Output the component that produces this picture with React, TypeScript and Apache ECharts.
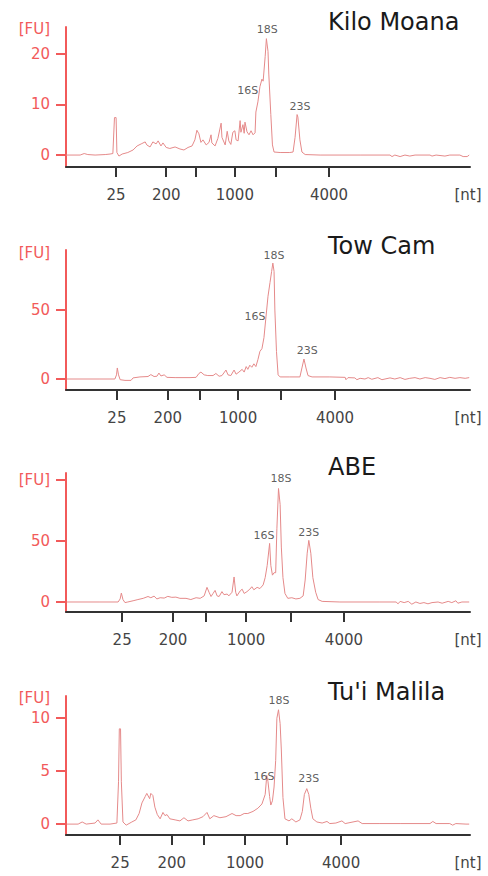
import React, { useEffect, useRef } from "react";
import * as echarts from "echarts";

// ---------- data ----------
const panelTitles = ["Kilo Moana", "Tow Cam", "ABE", "Tu'i Malila"];
const xTickLabels = ["25", "200", "", "1000", "", "4000"];
const ntLabel = "[nt]";
const ntPos = 99.5;
const fuLabel = "[FU]";
const peakNames = ["18S", "16S", "23S"];

// ladder tick positions (relative migration units 0..100)
const xTicks1 = [12.4, 24.8, 32.2, 41.8, 52.0, 65.1];
const xTicks2 = [12.6, 25.2, 33.2, 42.6, 53.2, 66.6];
const xTicks3 = [13.9, 26.5, 34.7, 44.6, 55.7, 68.8];
const xTicks4 = [13.4, 26.2, 34.2, 44.3, 54.7, 68.1];

// fluorescence axes
const yMin = [-2.36, -7.97, -8.2, -1.03];
const yMax = [25.3, 93.5, 105.7, 12.1];
const yTicks1 = [0, 10, 20];
const yTicks2 = [0, 50];
const yTicks3 = [0, 50, 100];
const yTicks4 = [0, 5, 10];
const fuPos = [25, 91.3, 100, 11.9];

// traces
const traceX1 = [0.0, 3.5, 4.5, 5.4, 7.2, 9.7, 10.9, 11.6, 12.0, 12.4, 12.6, 13.1, 13.9, 15.3, 16.6, 17.6, 18.6, 19.6, 20.0, 20.8, 21.5, 22.3, 22.8, 23.5, 24.0, 24.8, 25.7, 27.0, 28.2, 29.2, 30.2, 31.2, 31.9, 32.4, 32.9, 33.4, 33.9, 34.7, 35.4, 35.9, 36.1, 36.9, 37.6, 38.4, 38.6, 39.4, 39.9, 40.3, 40.8, 41.3, 41.8, 42.1, 42.6, 43.1, 43.3, 43.8, 44.1, 44.3, 44.8, 45.3, 45.8, 46.3, 46.8, 47.0, 47.5, 48.0, 48.5, 48.8, 49.3, 49.6, 50.0, 50.2, 50.7, 51.1, 51.5, 53.0, 55.4, 56.2, 56.7, 57.2, 57.4, 57.9, 58.4, 59.2, 62.9, 72.8, 80.2, 80.7, 81.4, 82.7, 83.9, 85.1, 86.4, 90.1, 90.6, 91.6, 93.8, 95.0, 97.5, 98.3, 99.3, 99.8];
const traceY1 = [0, 0, 0.3, 0.1, 0, 0.1, 0.2, 0.3, 7.4, 7.4, 0.5, -0.2, 0.2, 0.5, 1.0, 1.8, 2.2, 2.6, 2.0, 1.6, 2.6, 2.2, 2.8, 1.8, 2.4, 1.5, 1.3, 1.6, 1.2, 1.0, 1.5, 1.8, 3.0, 4.9, 4.2, 2.5, 3.0, 2.0, 2.5, 4.0, 2.4, 1.8, 3.3, 6.3, 3.5, 2.0, 4.7, 2.8, 2.1, 4.5, 4.8, 3.0, 2.8, 6.8, 4.5, 6.0, 4.3, 6.5, 4.6, 4.0, 4.8, 4.0, 4.4, 8.5, 10.5, 13.5, 15.0, 14.6, 19.5, 23.0, 20.5, 16.0, 8.0, 2.0, 0.6, 0.5, 0.5, 0.6, 3.5, 8.0, 7.5, 3.0, 0.6, 0.1, 0, 0, 0, -0.3, 0, -0.3, 0, -0.2, 0, 0, -0.2, 0, -0.2, 0, 0, -0.3, -0.3, 0];

const traceX2 = [0.2, 8.4, 12.1, 12.5, 12.7, 13.0, 13.4, 14.6, 16.1, 16.6, 18.3, 20.3, 21.0, 21.8, 22.5, 23.0, 23.5, 24.3, 25.0, 27.0, 30.7, 32.2, 32.9, 33.4, 34.2, 35.1, 36.4, 37.1, 37.9, 38.6, 39.6, 40.1, 40.8, 41.6, 42.1, 42.8, 43.6, 44.1, 44.6, 45.0, 45.5, 46.0, 46.5, 47.0, 47.5, 48.0, 48.5, 49.0, 49.5, 50.0, 50.5, 50.9, 51.2, 51.5, 51.7, 52.1, 52.5, 53.0, 55.4, 57.9, 58.4, 58.9, 59.4, 59.9, 60.9, 65.3, 69.1, 69.3, 69.8, 71.5, 72.0, 72.8, 74.0, 74.8, 75.7, 77.2, 78.2, 80.2, 81.4, 82.7, 83.9, 85.1, 86.4, 87.6, 88.9, 90.1, 91.3, 92.6, 93.8, 95.0, 96.3, 97.5, 98.8, 99.8];
const traceY2 = [0, 0, 0, 3, 8, 3, -0.5, -1, -1, 0.8, 1.5, 1.8, 3.2, 1.8, 2, 4.3, 2.2, 3.0, 1.2, 1.0, 1.0, 1.2, 4.0, 5.0, 3.0, 2.5, 2.5, 4.0, 2.0, 2.5, 6.5, 3, 2.5, 6.5, 3.5, 5, 7, 5, 9, 7, 10, 8.5, 11, 9, 14, 20, 22, 30, 45, 60, 70, 78, 84, 78, 50, 20, 3, 1.5, 1.5, 1.5, 8, 14.5, 8, 2.5, 1.5, 1.5, 1.2, -0.5, 1.0, 0.8, -0.5, 0.5, 0, 1, -0.2, 1, -0.5, 0.8, 0, 1, -0.3, 0.5, 1.0, 0, 1, 0.5, -0.3, 1, 0.3, 1.2, 0.5, 1.0, 0.5, 1.0];

const traceX3 = [0.2, 8.4, 12.9, 13.4, 13.7, 14.1, 14.6, 15.3, 16.6, 17.8, 19.1, 20.3, 21.0, 21.8, 22.5, 23.3, 24.3, 25.2, 26.2, 27.2, 28.2, 29.7, 30.9, 32.2, 33.2, 34.2, 34.9, 35.4, 35.9, 36.4, 36.9, 37.4, 37.9, 38.6, 39.1, 39.9, 40.3, 41.1, 41.6, 42.0, 42.3, 43.1, 43.6, 44.1, 44.8, 45.5, 46.0, 46.5, 47.3, 48.0, 48.8, 49.3, 49.8, 50.4, 50.7, 51.1, 51.5, 51.9, 52.2, 52.6, 53.0, 53.3, 53.7, 54.2, 54.9, 55.9, 56.9, 57.9, 58.7, 59.2, 59.7, 60.1, 60.6, 61.1, 61.8, 62.4, 63.4, 67.8, 77.7, 81.7, 82.2, 82.7, 83.7, 84.7, 85.6, 86.6, 87.6, 88.6, 89.6, 90.6, 92.1, 93.1, 94.6, 95.5, 96.5, 97.0, 98.0, 99.8];
const traceY3 = [0, 0, 0, 2.5, 7.3, 2, -0.5, 0, 1.0, 2.0, 3.0, 4.5, 3.5, 4.8, 2.5, 3.5, 3.2, 4.6, 3.8, 4.0, 3.0, 3.0, 2.0, 3.5, 3.0, 5, 12, 8, 4.5, 7, 9.5, 5, 4.5, 8.5, 6, 6.5, 5, 8, 20.5, 8, 5, 9, 10.5, 7, 8.5, 10.5, 12.5, 10, 12, 11, 14, 20, 30, 48, 30, 22, 24, 24, 60, 93, 80, 45, 20, 7, 3, 3.5, 2.5, 3, 5, 18, 40, 50.5, 40, 20, 8, 2, 0.5, 0, 0, 0, -1.5, 0.5, -0.5, 0.5, -1.8, 0, -1.2, -0.5, -1.5, -0.5, 0, -1, 0.5, -0.5, 1, -1, 0, 0];

const traceX4 = [0.2, 3.0, 4.0, 5.0, 7.2, 7.9, 8.7, 10.9, 12.6, 13.0, 13.2, 13.5, 13.7, 14.1, 14.9, 16.3, 17.3, 18.1, 18.8, 19.6, 20.0, 20.7, 21.0, 21.5, 22.0, 22.6, 23.3, 24.0, 24.5, 25.0, 25.7, 27.0, 28.2, 29.2, 30.2, 31.4, 32.7, 33.9, 34.9, 35.6, 36.6, 38.1, 39.6, 41.1, 42.1, 43.1, 44.1, 45.0, 46.3, 47.5, 48.5, 49.3, 49.7, 50.0, 50.4, 50.7, 51.1, 51.5, 51.9, 52.2, 52.6, 53.0, 53.3, 53.7, 54.2, 55.2, 55.9, 56.9, 57.9, 58.5, 59.0, 59.6, 60.1, 60.6, 61.1, 62.1, 63.4, 64.6, 65.3, 66.8, 68.3, 69.1, 72.3, 73.3, 77.7, 82.7, 90.1, 90.8, 91.6, 95.0, 95.7, 96.5, 99.0, 99.8];
const traceY4 = [0, 0, 0.2, 0, 0.1, 0.4, 0, 0, 0.1, 4, 9.0, 9.0, 4, 0.2, -0.1, 0.2, 0.4, 1.0, 2.0, 2.6, 2.9, 2.4, 2.9, 2.7, 1.6, 0.9, 0.5, 1.1, 0.8, 0.9, 0.5, 0.4, 0.3, 0.6, 0.3, 0.4, 0.5, 0.7, 1.1, 0.5, 0.8, 0.6, 0.7, 1.0, 0.8, 0.8, 1.0, 1.0, 1.2, 1.5, 1.9, 2.8, 4.6, 4.0, 2.6, 1.8, 2.2, 3.5, 6, 10.0, 10.8, 9.5, 7.0, 2.5, 0.5, 0.3, 0.5, 0.2, 0.4, 1.2, 2.8, 3.35, 2.8, 1.5, 0.5, 0.2, 0.1, 0.25, 0.05, 0.1, 0.3, 0.05, 0.3, 0.05, 0.05, 0.05, 0.05, 0.25, 0.05, 0.05, -0.1, 0.05, 0, 0];

// peak annotation anchors (18S, 16S, 23S)
const peakX1 = [49.8, 45.0, 57.9];
const peakY1 = [24.9, 12.8, 9.5];
const peakX2 = [51.5, 46.8, 59.7];
const peakY2 = [89.7, 45.0, 20.4];
const peakX3 = [53.2, 49.0, 60.1];
const peakY3 = [101.4, 54.1, 57.3];
const peakX4 = [52.7, 49.0, 60.1];
const peakY4 = [11.65, 4.5, 4.3];

// ---------- layout / style ----------
const FONT = "DejaVu Sans";
const RED = "#f25a5a";
const TRACE = "#e58a8a";
const AXIS_DARK = "#333333";
const gridTops = [27, 250, 473, 696];
const gridHeights = [140, 140, 139, 139];
const titleY = [22, 246, 467, 692];

export default function App() {
  const ref = useRef<HTMLDivElement>(null);

  useEffect(() => {
    if (!ref.current) return;
    const chart = echarts.init(ref.current, undefined, { renderer: "svg" });

    const xTicks = [xTicks1, xTicks2, xTicks3, xTicks4];
    const yTicks = [yTicks1, yTicks2, yTicks3, yTicks4];
    const traceX = [traceX1, traceX2, traceX3, traceX4];
    const traceY = [traceY1, traceY2, traceY3, traceY4];
    const peakX = [peakX1, peakX2, peakX3, peakX4];
    const peakY = [peakY1, peakY2, peakY3, peakY4];

    const grids: any[] = [];
    const xAxes: any[] = [];
    const yAxes: any[] = [];
    const series: any[] = [];
    const graphics: any[] = [];

    for (let i = 0; i < 4; i++) {
      grids.push({
        left: 66,
        right: 18,
        top: gridTops[i],
        height: gridHeights[i],
        containLabel: false,
        outerBoundsMode: "none",
      });

      const ticks = xTicks[i];
      const labelVals: number[] = [];
      const labelMap = new Map<number, string>();
      ticks.forEach((t, k) => {
        if (xTickLabels[k]) {
          labelVals.push(t);
          labelMap.set(t, xTickLabels[k]);
        }
      });
      labelVals.push(ntPos);
      labelMap.set(ntPos, ntLabel);

      xAxes.push({
        type: "value",
        gridIndex: i,
        min: 0,
        max: 100,
        axisLine: { show: true, onZero: false, lineStyle: { color: AXIS_DARK, width: 2 } },
        axisTick: {
          show: true,
          customValues: ticks,
          length: 10,
          lineStyle: { color: AXIS_DARK, width: 2 },
        },
        axisLabel: {
          show: true,
          customValues: labelVals,
          formatter: (v: number) => labelMap.get(v) ?? "",
          color: "#444444",
          fontSize: 15,
          fontFamily: FONT,
          margin: 20,
        },
        splitLine: { show: false },
      });

      const yt = yTicks[i];
      const fu = fuPos[i];
      yAxes.push({
        type: "value",
        gridIndex: i,
        min: yMin[i],
        max: yMax[i],
        axisLine: { show: true, onZero: false, lineStyle: { color: RED, width: 2 } },
        axisTick: {
          show: true,
          customValues: i === 2 ? yt : yt,
          length: 10,
          lineStyle: { color: RED, width: 2 },
        },
        axisLabel: {
          show: true,
          customValues: [...yt.filter((v) => v !== fu), fu],
          formatter: (v: number) => (v === fu ? fuLabel : String(v)),
          color: RED,
          fontSize: 15,
          fontFamily: FONT,
          margin: 16,
        },
        splitLine: { show: false },
      });

      series.push({
        type: "line",
        xAxisIndex: i,
        yAxisIndex: i,
        data: traceX[i].map((x, k) => [x, traceY[i][k]]),
        showSymbol: false,
        symbol: "none",
        lineStyle: { color: TRACE, width: 1 },
        silent: true,
        z: 3,
      });

      series.push({
        type: "scatter",
        xAxisIndex: i,
        yAxisIndex: i,
        symbolSize: 0,
        data: peakNames.map((n, k) => [peakX[i][k], peakY[i][k], n]),
        label: {
          show: true,
          position: "inside",
          formatter: (p: any) => p.data[2],
          color: "#333333",
          fontSize: 11,
          fontFamily: FONT,
        },
        silent: true,
        z: 4,
      });

      graphics.push({
        type: "text",
        x: 328,
        y: titleY[i],
        style: {
          text: panelTitles[i],
          fontSize: 24,
          fontFamily: FONT,
          fill: "#1a1a1a",
          verticalAlign: "middle",
          align: "left",
        },
      });
    }

    chart.setOption({
      animation: false,
      backgroundColor: "#ffffff",
      grid: grids,
      xAxis: xAxes,
      yAxis: yAxes,
      series,
      graphic: graphics,
    });

    return () => chart.dispose();
  }, []);

  return (
    <div
      ref={ref}
      style={{ position: "absolute", left: 0, top: 0, width: 488, height: 876 }}
    />
  );
}
